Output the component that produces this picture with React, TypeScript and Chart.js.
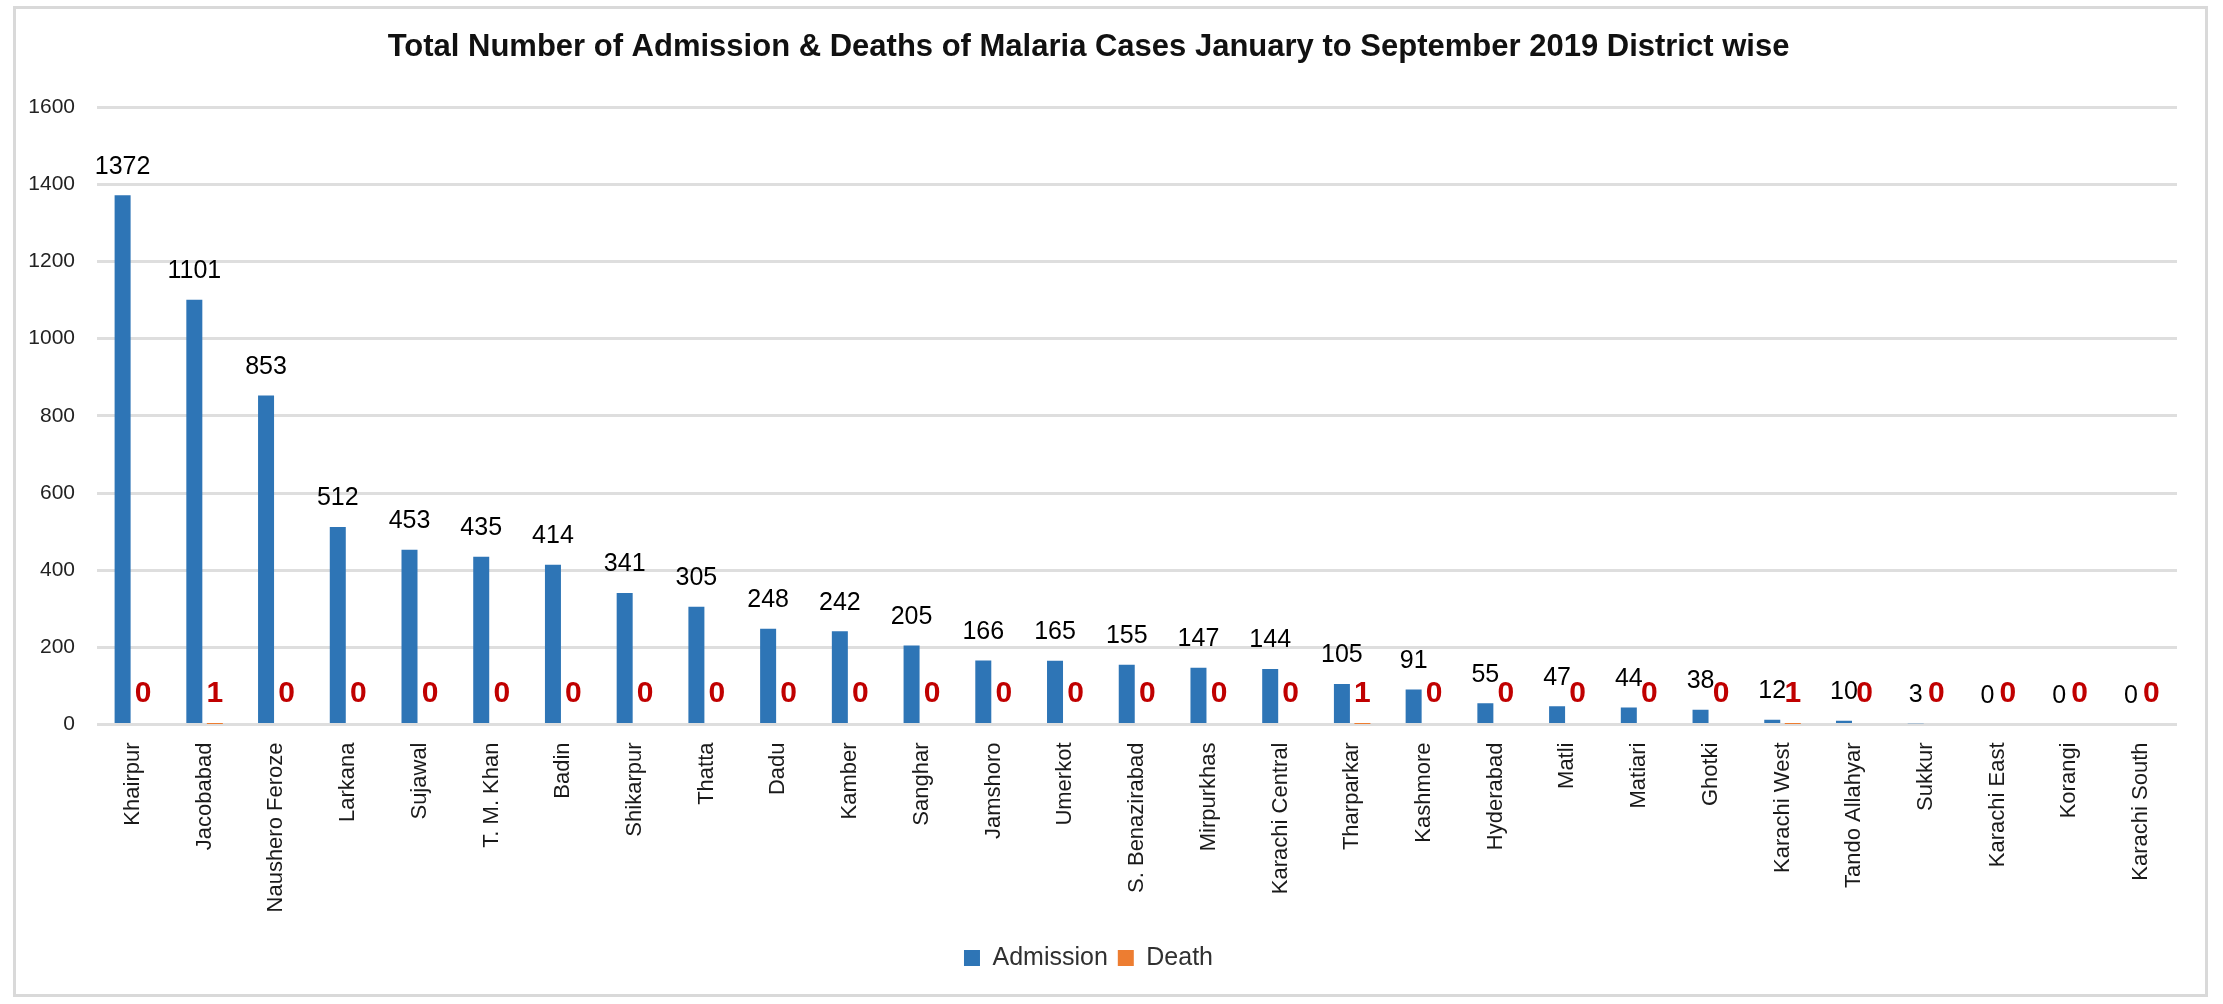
import React, { useEffect, useRef } from "react";
import { Chart, registerables } from "chart.js";

Chart.register(...registerables);

const districts: string[] = [
  "Khairpur", "Jacobabad", "Naushero Feroze", "Larkana", "Sujawal", "T. M. Khan",
  "Badin", "Shikarpur", "Thatta", "Dadu", "Kamber", "Sanghar", "Jamshoro",
  "Umerkot", "S. Benazirabad", "Mirpurkhas", "Karachi Central", "Tharparkar",
  "Kashmore", "Hyderabad", "Matli", "Matiari", "Ghotki", "Karachi West",
  "Tando Allahyar", "Sukkur", "Karachi East", "Korangi", "Karachi South",
];

const admission: number[] = [
  1372, 1101, 853, 512, 453, 435, 414, 341, 305, 248, 242, 205, 166, 165, 155,
  147, 144, 105, 91, 55, 47, 44, 38, 12, 10, 3, 0, 0, 0,
];

const deaths: number[] = [
  0, 1, 0, 0, 0, 0, 0, 0, 0, 0, 0, 0, 0, 0, 0, 0, 0, 1, 0, 0, 0, 0, 0, 1, 0, 0, 0, 0, 0,
];

const yTicks: number[] = [0, 200, 400, 600, 800, 1000, 1200, 1400, 1600];

const seriesNames: string[] = ["Admission", "Death"];

const titleText =
  "Total Number of Admission & Deaths of Malaria Cases January to September 2019 District wise";

const SANS = '"Liberation Sans", Arial, sans-serif';

const labelStyles = [
  { font: `25px ${SANS}`, color: "#000000", lift: 28.5 },
  { font: `bold 30px ${SANS}`, color: "#C00000", lift: 30.5 },
];

const valueLabels = {
  id: "valueLabels",
  afterDatasetsDraw(chart: any) {
    const ctx = chart.ctx;
    ctx.save();
    chart.data.datasets.forEach((ds: any, di: number) => {
      const meta = chart.getDatasetMeta(di);
      const st = labelStyles[di];
      ctx.font = st.font;
      ctx.fillStyle = st.color;
      ctx.textAlign = "center";
      ctx.textBaseline = "middle";
      meta.data.forEach((el: any, i: number) => {
        const v = ds.data[i];
        ctx.fillText(String(v), el.x, el.y - st.lift);
      });
    });
    ctx.restore();
  },
};

export default function App() {
  const canvasRef = useRef<HTMLCanvasElement | null>(null);

  useEffect(() => {
    document.body.style.margin = "0";
    const canvas = canvasRef.current;
    if (!canvas) return;
    const chart = new Chart(canvas, {
      type: "bar",
      data: {
        labels: districts,
        datasets: [
          {
            label: seriesNames[0],
            data: admission,
            backgroundColor: "#2E75B6",
            categoryPercentage: 0.572,
            barPercentage: 0.78,
          },
          {
            label: seriesNames[1],
            data: deaths,
            backgroundColor: "#ED7D31",
            categoryPercentage: 0.572,
            barPercentage: 0.78,
          },
        ],
      },
      options: {
        responsive: false,
        animation: false,
        devicePixelRatio: 1,
        layout: { padding: { left: 0, right: 46, top: 0, bottom: 23.5 } },
        plugins: {
          title: {
            display: true,
            text: titleText,
            color: "#111111",
            font: { family: SANS, size: 31, weight: "bold", lineHeight: 1.2 },
            padding: { top: 29, bottom: 41 },
          },
          legend: {
            display: true,
            position: "bottom",
            labels: {
              color: "#303030",
              font: { family: SANS, size: 25 },
              boxWidth: 16,
              boxHeight: 16,
              padding: 10,
            },
          },
          tooltip: { enabled: false },
        },
        scales: {
          x: {
            grid: { display: false, drawTicks: false },
            border: { display: false },
            ticks: {
              color: "#1a1a1a",
              font: { family: SANS, size: 22 },
              minRotation: 90,
              maxRotation: 90,
              autoSkip: false,
              padding: 18,
            },
            afterFit: (scale: any) => {
              scale.height = 211;
            },
          },
          y: {
            min: yTicks[0],
            max: yTicks[yTicks.length - 1],
            afterBuildTicks: (scale: any) => {
              scale.ticks = yTicks.map((v) => ({ value: v }));
            },
            grid: { color: "#DEDEDE", lineWidth: 3, drawTicks: false },
            border: { display: false },
            ticks: {
              color: "#222222",
              font: { family: SANS, size: 21 },
              padding: 22,
              callback: (v: any) => String(v),
            },
            afterFit: (scale: any) => {
              scale.width = 97;
            },
          },
        },
      },
      plugins: [valueLabels],
    });
    return () => chart.destroy();
  }, []);

  return (
    <div style={{ position: "relative", width: 2223, height: 1004, background: "#ffffff", overflow: "hidden" }}>
      <canvas ref={canvasRef} width={2223} height={1004} style={{ display: "block" }} />
      <div
        style={{
          position: "absolute",
          left: 13,
          top: 6,
          width: 2195,
          height: 991,
          border: "3px solid #D9D9D9",
          boxSizing: "border-box",
          pointerEvents: "none",
        }}
      />
    </div>
  );
}
